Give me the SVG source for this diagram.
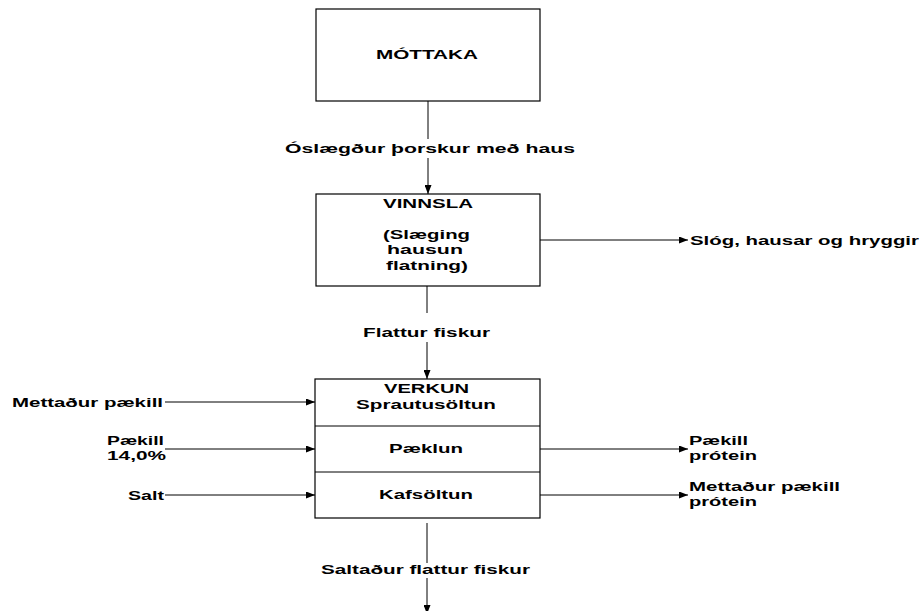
<svg xmlns="http://www.w3.org/2000/svg" width="923" height="611" viewBox="0 0 923 611">
<defs>
<style>
.box{fill:#fff;stroke:#000;stroke-width:1.2}
.ln{stroke:#000;stroke-width:1;fill:none}
.t{font-family:"Liberation Sans",Arial,sans-serif;font-weight:bold;font-size:13.5px;fill:#000}
.s{font-size:12.5px}
</style>
<marker id="ah" markerWidth="9" markerHeight="7" refX="9" refY="3.5" orient="auto" markerUnits="userSpaceOnUse">
<path d="M0,0 L9,3.5 L0,7 Z" fill="#000"/>
</marker>
</defs>
<rect width="923" height="611" fill="#fff"/>
<g id="connectors">
<line class="ln" x1="428" y1="101" x2="428" y2="139"/>
<line class="ln" x1="428" y1="158" x2="428" y2="194" marker-end="url(#ah)"/>
<line class="ln" x1="540" y1="240" x2="688" y2="240" marker-end="url(#ah)"/>
<line class="ln" x1="427" y1="286" x2="427" y2="313"/>
<line class="ln" x1="427" y1="342" x2="427" y2="379" marker-end="url(#ah)"/>
<line class="ln" x1="165" y1="402" x2="315" y2="402" marker-end="url(#ah)"/>
<line class="ln" x1="165" y1="449" x2="315" y2="449" marker-end="url(#ah)"/>
<line class="ln" x1="165" y1="495" x2="315" y2="495" marker-end="url(#ah)"/>
<line class="ln" x1="540" y1="449" x2="688" y2="449" marker-end="url(#ah)"/>
<line class="ln" x1="540" y1="495" x2="688" y2="495" marker-end="url(#ah)"/>
<line class="ln" x1="427" y1="523" x2="427" y2="563"/>
<line class="ln" x1="427" y1="578" x2="427" y2="614" marker-end="url(#ah)"/>
</g>
<g id="lbl-oslaegdur"><text class="t" x="285" y="153" textLength="290" lengthAdjust="spacingAndGlyphs">Óslægður þorskur með haus</text></g>
<g id="lbl-slog"><text class="t" x="690" y="245" textLength="229" lengthAdjust="spacingAndGlyphs">Slóg, hausar og hryggir</text></g>
<g id="lbl-flattur"><text class="t" x="363" y="337" textLength="127" lengthAdjust="spacingAndGlyphs">Flattur fiskur</text></g>
<g id="lbl-mettadur-in"><text class="t" x="12" y="407" textLength="151" lengthAdjust="spacingAndGlyphs">Mettaður pækill</text></g>
<g id="lbl-paekill-in">
<text class="t s" x="107" y="445" textLength="57" lengthAdjust="spacingAndGlyphs">Pækill</text>
<text class="t s" x="107" y="460" textLength="59" lengthAdjust="spacingAndGlyphs">14,0%</text>
</g>
<g id="lbl-salt"><text class="t" x="128" y="500" textLength="36" lengthAdjust="spacingAndGlyphs">Salt</text></g>
<g id="lbl-paekill-out">
<text class="t s" x="689" y="445" textLength="59" lengthAdjust="spacingAndGlyphs">Pækill</text>
<text class="t s" x="689" y="460" textLength="68" lengthAdjust="spacingAndGlyphs">prótein</text>
</g>
<g id="lbl-mettadur-out">
<text class="t s" x="689" y="491" textLength="151" lengthAdjust="spacingAndGlyphs">Mettaður pækill</text>
<text class="t s" x="689" y="506" textLength="68" lengthAdjust="spacingAndGlyphs">prótein</text>
</g>
<g id="lbl-saltadur"><text class="t" x="321" y="574" textLength="209" lengthAdjust="spacingAndGlyphs">Saltaður flattur fiskur</text></g>
<g id="mottaka">
<rect class="box" x="316" y="9" width="224" height="92"/>
<text class="t" x="376" y="59" textLength="102" lengthAdjust="spacingAndGlyphs">MÓTTAKA</text>
</g>
<g id="vinnsla">
<rect class="box" x="316" y="194" width="224" height="92"/>
<text class="t" x="383" y="208" textLength="90" lengthAdjust="spacingAndGlyphs">VINNSLA</text>
<text class="t" x="383" y="239" textLength="87" lengthAdjust="spacingAndGlyphs">(Slæging</text>
<text class="t" x="387" y="254" textLength="76" lengthAdjust="spacingAndGlyphs">hausun</text>
<text class="t" x="386" y="270" textLength="82" lengthAdjust="spacingAndGlyphs">flatning)</text>
</g>
<g id="verkun">
<rect class="box" x="315" y="379" width="225" height="139"/>
<line class="ln" x1="315" y1="426" x2="540" y2="426" stroke="#444"/>
<line class="ln" x1="315" y1="472" x2="540" y2="472" stroke="#444"/>
<text class="t" x="384" y="393" textLength="85" lengthAdjust="spacingAndGlyphs">VERKUN</text>
<text class="t" x="356" y="409" textLength="140" lengthAdjust="spacingAndGlyphs">Sprautusöltun</text>
<text class="t" x="389" y="453" textLength="74" lengthAdjust="spacingAndGlyphs">Pæklun</text>
<text class="t" x="379" y="499" textLength="94" lengthAdjust="spacingAndGlyphs">Kafsöltun</text>
</g>
</svg>
